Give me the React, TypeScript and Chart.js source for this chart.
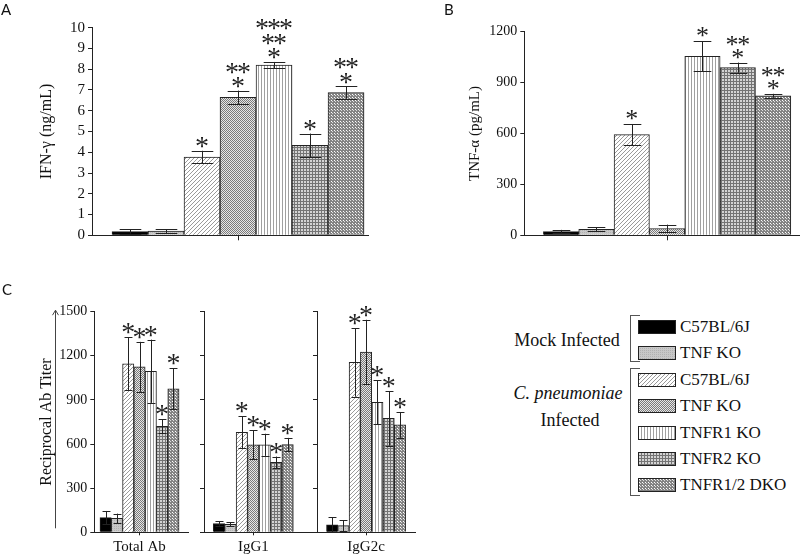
import React, { useEffect, useRef } from 'react';
import { Chart, registerables } from 'chart.js';

Chart.register(...registerables);

const SERIF = '"Liberation Serif", "Times New Roman", Times, serif';
const SANS = 'Lato, "Open Sans", sans-serif';

// ---------------- data ----------------
const GROUP_LABELS = ['C57BL/6J', 'TNF KO', 'C57BL/6J', 'TNF KO', 'TNFR1 KO', 'TNFR2 KO', 'TNFR1/2 DKO'];
const GROUP_FILLS = ['black', 'gray', 'diag', 'check', 'vert', 'grid', 'dots'];
const MOCK_TITLE = 'Mock Infected';
const INFECTED_TITLE_ITALIC = 'C. pneumoniae';
const INFECTED_TITLE = 'Infected';

const IFN_TITLE = 'IFN-γ (ng/mL)';
const IFN_TICKS = [0, 1, 2, 3, 4, 5, 6, 7, 8, 9, 10];
const IFN_VALUES = [0.18, 0.2, 3.77, 6.65, 8.2, 4.33, 6.88];
const IFN_ERRORS = [0.1, 0.1, 0.3, 0.32, 0.15, 0.57, 0.3];
const IFN_STARS = [0, 0, 1, 2, 3, 1, 2];

const TNF_TITLE = 'TNF-α (pg/mL)';
const TNF_TICKS = [0, 300, 600, 900, 1200];
const TNF_VALUES = [22, 35, 593, 40, 1055, 988, 822];
const TNF_ERRORS = [10, 12, 63, 23, 88, 30, 12];
const TNF_STARS = [0, 0, 1, 0, 1, 2, 2];

const AB_TITLE = 'Reciprocal Ab Titer';
const AB_TICKS = [0, 300, 600, 900, 1200, 1500];
const AB_CATEGORIES = ['Total Ab', 'IgG1', 'IgG2c'];
const TOTAL_AB_VALUES = [100, 95, 1145, 1125, 1095, 720, 975];
const TOTAL_AB_ERRORS = [45, 32, 180, 170, 215, 48, 140];
const IGG1_VALUES = [60, 55, 680, 595, 595, 475, 597];
const IGG1_ERRORS = [15, 12, 108, 98, 75, 40, 45];
const IGG2C_VALUES = [50, 45, 1155, 1225, 884, 775, 730];
const IGG2C_ERRORS = [52, 38, 233, 220, 150, 186, 88];
const AB_STARS = [0, 0, 1, 1, 1, 1, 1];

// ---------------- patterns ----------------
function makeFill(kind: string): string | CanvasPattern {
  if (kind === 'black') return '#000';
  const c = document.createElement('canvas');
  const g = c.getContext('2d')!;
  const px = (x: number, y: number, col: string) => {
    g.fillStyle = col;
    g.fillRect(x, y, 1, 1);
  };
  const base = (w: number, h: number, col: string) => {
    c.width = w;
    c.height = h;
    g.fillStyle = col;
    g.fillRect(0, 0, w, h);
  };
  if (kind === 'gray') {
    base(2, 2, '#c8c8c8');
    px(0, 0, '#b2b2b2');
  } else if (kind === 'diag') {
    base(4, 4, '#ffffff');
    for (let i = 0; i < 4; i++) px(i, 3 - i, '#9a9a9a');
  } else if (kind === 'check') {
    base(2, 2, '#e6e6e6');
    px(0, 0, '#7a7a7a');
    px(1, 1, '#7a7a7a');
  } else if (kind === 'vert') {
    base(3, 1, '#ffffff');
    px(0, 0, '#a0a0a0');
  } else if (kind === 'grid') {
    base(3, 3, '#d4d4d4');
    for (let i = 0; i < 3; i++) {
      px(i, 0, '#747474');
      px(0, i, '#747474');
    }
  } else {
    base(3, 3, '#848484');
    px(1, 1, '#ffffff');
    px(2, 2, '#dcdcdc');
  }
  return g.createPattern(c, 'repeat')!;
}

// ---------------- plugins ----------------
const errorBarPlugin = {
  id: 'errbars',
  afterDatasetsDraw(chart: any, _args: any, opts: any) {
    const { ctx } = chart;
    const yScale = chart.scales.y;
    const meta = chart.getDatasetMeta(0);
    const data = chart.data.datasets[0].data as { x: number; y: number }[];
    ctx.save();
    ctx.strokeStyle = '#222';
    ctx.lineWidth = 1;
    ctx.font = `${opts.starSize}px ${SERIF}`;
    const m = ctx.measureText('*');
    const shift = (m.actualBoundingBoxAscent - m.actualBoundingBoxDescent) / 2;
    meta.data.forEach((el: any, i: number) => {
      const v = data[i].y;
      const e = opts.errors[i];
      const x = Math.round(el.x) + 0.5;
      const yTop = yScale.getPixelForValue(v + e);
      const yBot = yScale.getPixelForValue(Math.max(0, v - e));
      const half = (el.width * opts.capFrac) / 2;
      ctx.beginPath();
      ctx.moveTo(x, yBot);
      ctx.lineTo(x, yTop);
      ctx.moveTo(x - half, Math.round(yTop) + 0.5);
      ctx.lineTo(x + half, Math.round(yTop) + 0.5);
      ctx.moveTo(x - half, Math.round(yBot) + 0.5);
      ctx.lineTo(x + half, Math.round(yBot) + 0.5);
      ctx.stroke();
      const n = opts.stars[i];
      ctx.fillStyle = '#222';
      ctx.textAlign = 'center';
      ctx.textBaseline = 'alphabetic';
      for (let r = 1; r <= n; r++) {
        const cy = yTop - opts.starGap - (r - 1) * opts.starRow;
        for (let k = 0; k < r; k++) {
          const cx = el.x + (k - (r - 1) / 2) * opts.starSpacing;
          ctx.fillText('*', cx, cy + shift);
        }
      }
    });
    ctx.restore();
  },
};

const arrowAxisPlugin = {
  id: 'arrowaxis',
  afterDraw(chart: any, _args: any, opts: any) {
    if (!opts || !opts.show) return;
    const { ctx, chartArea } = chart;
    const y = chart.scales.y;
    const x = Math.round(chartArea.left - 39) + 0.5;
    const top = y.getPixelForValue(y.max) - 1.5;
    const bot = y.getPixelForValue(0) - 4;
    ctx.save();
    ctx.strokeStyle = '#444';
    ctx.lineWidth = 1;
    ctx.beginPath();
    ctx.moveTo(x, bot);
    ctx.lineTo(x, top);
    ctx.moveTo(x - 3, top + 5);
    ctx.lineTo(x, top);
    ctx.lineTo(x + 3, top + 5);
    ctx.stroke();
    ctx.restore();
  },
};

// ---------------- config builder ----------------
type PanelOpts = {
  values: number[];
  errors: number[];
  stars: number[];
  yTicks: number[];
  yTitle?: string;
  yTitleSize?: number;
  yTitlePad?: number;
  yTickSize: number;
  showYLabels: boolean;
  yAxisWidth: number;
  padTop: number;
  padRight: number;
  xAxisHeight: number;
  xMin: number;
  xMax: number;
  xLabel: string;
  xTickLength: number;
  capFrac: number;
  starSize: number;
  starGap: number;
  starRow: number;
  starSpacing: number;
  arrow?: boolean;
};

function makeConfig(p: PanelOpts): any {
  const fills = GROUP_FILLS.map(makeFill);
  const yMax = p.yTicks[p.yTicks.length - 1];
  const centerX = (p.values.length + 1) / 2;
  return {
    type: 'bar',
    data: {
      datasets: [
        {
          data: p.values.map((v, i) => ({ x: i + 1, y: v })),
          backgroundColor: fills,
          borderColor: '#222',
          borderWidth: 1,
          borderSkipped: 'bottom',
          categoryPercentage: 1,
          barPercentage: 1,
        },
      ],
    },
    options: {
      animation: false,
      responsive: false,
      events: [],
      layout: { padding: { top: p.padTop, right: p.padRight, left: 0, bottom: 0 } },
      plugins: {
        legend: { display: false },
        tooltip: { enabled: false },
        errbars: {
          errors: p.errors,
          stars: p.stars,
          capFrac: p.capFrac,
          starSize: p.starSize,
          starGap: p.starGap,
          starRow: p.starRow,
          starSpacing: p.starSpacing,
        },
        arrowaxis: { show: !!p.arrow },
      },
      scales: {
        x: {
          type: 'linear',
          min: p.xMin,
          max: p.xMax,
          offset: false,
          afterBuildTicks: (s: any) => {
            s.ticks = [{ value: centerX }];
          },
          afterFit: (s: any) => {
            s.height = p.xAxisHeight;
          },
          border: { display: true, color: '#222', width: 1 },
          grid: { drawOnChartArea: false, drawTicks: true, tickLength: p.xTickLength, color: '#222', offset: false },
          ticks: {
            callback: () => p.xLabel,
            font: { family: SERIF, size: 15 },
            color: '#111',
            padding: 3,
            maxRotation: 0,
            autoSkip: false,
          },
        },
        y: {
          type: 'linear',
          min: 0,
          max: yMax,
          afterBuildTicks: (s: any) => {
            s.ticks = p.yTicks.map((v) => ({ value: v }));
          },
          afterFit: (s: any) => {
            s.width = p.yAxisWidth;
          },
          border: { display: true, color: '#222', width: 1 },
          grid: { drawOnChartArea: false, drawTicks: true, tickLength: 4, color: '#222' },
          ticks: {
            callback: (v: any) => (p.showYLabels ? String(v) : ''),
            font: { family: SERIF, size: p.yTickSize },
            color: '#111',
            padding: 3,
            autoSkip: false,
          },
          title: {
            display: !!p.yTitle,
            text: p.yTitle || '',
            font: { family: SERIF, size: p.yTitleSize || 16 },
            color: '#111',
            padding: { top: p.yTitlePad || 0, bottom: 0 },
          },
        },
      },
    },
    plugins: [errorBarPlugin, arrowAxisPlugin],
  };
}

// ---------------- components ----------------
function ChartBox(props: { left: number; top: number; width: number; height: number; opts: PanelOpts }) {
  const ref = useRef<HTMLCanvasElement>(null);
  useEffect(() => {
    const chart = new Chart(ref.current!, makeConfig(props.opts));
    return () => chart.destroy();
  }, []);
  return (
    <canvas
      ref={ref}
      width={props.width}
      height={props.height}
      style={{ position: 'absolute', left: props.left, top: props.top, width: props.width, height: props.height }}
    />
  );
}

function Swatch(props: { kind: string; left: number; top: number }) {
  const ref = useRef<HTMLCanvasElement>(null);
  useEffect(() => {
    const c = ref.current!;
    const g = c.getContext('2d')!;
    g.clearRect(0, 0, c.width, c.height);
    g.fillStyle = makeFill(props.kind) as any;
    g.fillRect(0, 0, c.width, c.height);
    g.strokeStyle = '#222';
    g.lineWidth = 1;
    g.strokeRect(0.5, 0.5, c.width - 1, c.height - 1);
  }, []);
  return (
    <canvas
      ref={ref}
      width={38}
      height={14}
      style={{ position: 'absolute', left: props.left, top: props.top, width: 38, height: 14 }}
    />
  );
}

function Legend() {
  const rowTop = (i: number) => 320 + i * 26.4;
  const textStyle: React.CSSProperties = {
    position: 'absolute',
    fontFamily: SERIF,
    fontSize: 17,
    lineHeight: '20px',
    color: '#111',
    whiteSpace: 'nowrap',
  };
  const groupStyle: React.CSSProperties = {
    position: 'absolute',
    fontFamily: SERIF,
    fontSize: 18,
    lineHeight: '20px',
    color: '#111',
    width: 150,
    textAlign: 'center',
    whiteSpace: 'nowrap',
  };
  const bracket = (top: number, height: number): React.CSSProperties => ({
    position: 'absolute',
    left: 630,
    top,
    width: 10,
    height,
    borderLeft: '1px solid #555',
    borderTop: '1px solid #555',
    borderBottom: '1px solid #555',
    boxSizing: 'border-box',
  });
  return (
    <>
      <div style={bracket(315, 47)} />
      <div style={bracket(368, 128)} />
      <div style={{ ...groupStyle, left: 567 - 75, top: 330 }}>{MOCK_TITLE}</div>
      <div style={{ ...groupStyle, left: 568 - 75, top: 383, fontStyle: 'italic' }}>{INFECTED_TITLE_ITALIC}</div>
      <div style={{ ...groupStyle, left: 570 - 75, top: 410 }}>{INFECTED_TITLE}</div>
      {GROUP_LABELS.map((lab, i) => (
        <React.Fragment key={i}>
          <Swatch kind={GROUP_FILLS[i]} left={638} top={Math.round(rowTop(i))} />
          <div style={{ ...textStyle, left: 680, top: rowTop(i) + 7 - 10 }}>{lab}</div>
        </React.Fragment>
      ))}
    </>
  );
}

const panelLetter: React.CSSProperties = {
  position: 'absolute',
  fontFamily: SANS,
  fontSize: 15,
  lineHeight: '15px',
  color: '#111',
};

export default function App() {
  const common = {
    yTickSize: 15,
    showYLabels: true,
    xTickLength: 5,
    xLabel: '',
  };
  const aOpts: PanelOpts = {
    ...common,
    values: IFN_VALUES,
    errors: IFN_ERRORS,
    stars: IFN_STARS,
    yTicks: IFN_TICKS,
    yTitle: IFN_TITLE,
    yTitleSize: 16,
    yTitlePad: 37.4,
    yAxisWidth: 92,
    padTop: 27.7,
    padRight: 32,
    xAxisHeight: 24.7,
    xMin: -0.056,
    xMax: 7.61,
    capFrac: 0.6,
    starSize: 28,
    starGap: 8,
    starRow: 14.5,
    starSpacing: 12,
  };
  const bOpts: PanelOpts = {
    ...common,
    yTickSize: 14,
    values: TNF_VALUES,
    errors: TNF_ERRORS,
    stars: TNF_STARS,
    yTicks: TNF_TICKS,
    yTitle: TNF_TITLE,
    yTitleSize: 15,
    yTitlePad: 66,
    yAxisWidth: 124.3,
    padTop: 31.7,
    padRight: 0,
    xAxisHeight: 24.7,
    xMin: -0.04,
    xMax: 7.76,
    capFrac: 0.5,
    starSize: 26,
    starGap: 9,
    starRow: 12.5,
    starSpacing: 11.7,
  };
  const cBase = {
    yTickSize: 14,
    yTicks: AB_TICKS,
    stars: AB_STARS,
    padTop: 31.7,
    xAxisHeight: 22.7,
    xTickLength: 3,
    capFrac: 0.7,
    starSize: 28,
    starGap: 8.5,
    starRow: 14,
    starSpacing: 12,
  };
  const c1: PanelOpts = {
    ...cBase,
    values: TOTAL_AB_VALUES,
    errors: TOTAL_AB_ERRORS,
    showYLabels: true,
    yTitle: AB_TITLE,
    yTitleSize: 16,
    yTitlePad: 36.8,
    yAxisWidth: 94.3,
    padRight: 8,
    xMin: 0,
    xMax: 8.29,
    xLabel: AB_CATEGORIES[0],
    arrow: true,
  };
  const c2: PanelOpts = {
    ...cBase,
    values: IGG1_VALUES,
    errors: IGG1_ERRORS,
    showYLabels: false,
    yAxisWidth: 8,
    padRight: 2,
    xMin: -0.31,
    xMax: 9.22,
    xLabel: AB_CATEGORIES[1],
  };
  const c3: PanelOpts = {
    ...cBase,
    values: IGG2C_VALUES,
    errors: IGG2C_ERRORS,
    showYLabels: false,
    yAxisWidth: 8,
    padRight: 5,
    xMin: -0.34,
    xMax: 8.33,
    xLabel: AB_CATEGORIES[2],
  };
  return (
    <div
      style={{
        position: 'fixed',
        left: 0,
        top: 0,
        width: 800,
        height: 555,
        background: '#fff',
        overflow: 'hidden',
      }}
    >
      <ChartBox left={0} top={0} width={400} height={260} opts={aOpts} />
      <ChartBox left={400} top={0} width={400} height={260} opts={bOpts} />
      <ChartBox left={0} top={280} width={196} height={275} opts={c1} />
      <ChartBox left={196} top={280} width={119} height={275} opts={c2} />
      <ChartBox left={309} top={280} width={111} height={275} opts={c3} />
      <Legend />
      <div style={{ ...panelLetter, left: 1, top: 2 }}>A</div>
      <div style={{ ...panelLetter, left: 444, top: 2 }}>B</div>
      <div style={{ ...panelLetter, left: 2, top: 282 }}>C</div>
    </div>
  );
}
